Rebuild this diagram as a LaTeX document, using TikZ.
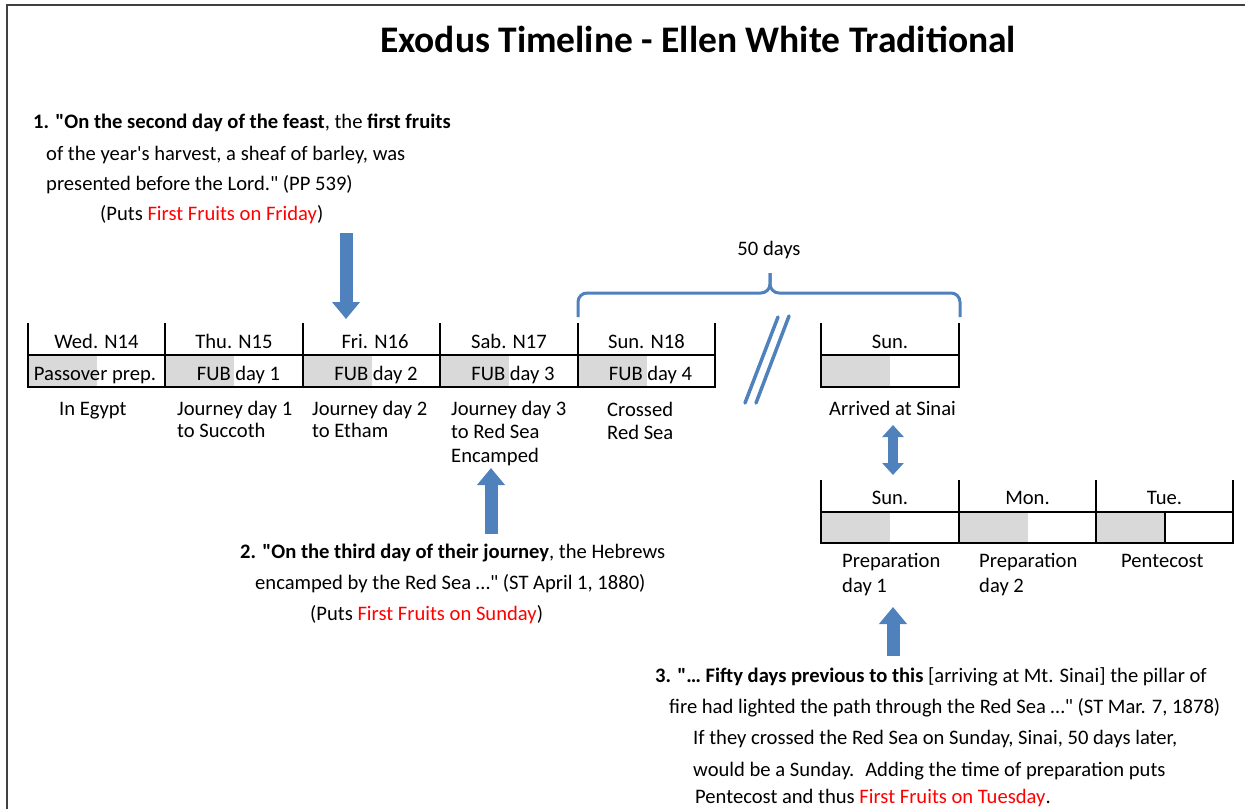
\documentclass[tikz,border=0pt]{standalone}
\usepackage{fontspec}
\setmainfont{Carlito}
\usetikzlibrary{arrows.meta}
\definecolor{exblue}{HTML}{4F81BD}
\definecolor{exgray}{HTML}{D9D9D9}
\definecolor{exred}{HTML}{FF0000}
\definecolor{exframe}{HTML}{404040}
\newcommand{\qq}{\textquotedbl}

\tikzset{
  every node/.style={inner sep=0pt,font=\fontsize{20.6}{24}\selectfont},
  lbl/.style={anchor=base west},
  ctr/.style={anchor=base},
  grid/.style={line width=1.4pt},
  brace/.style={draw=exblue,line width=3pt,rounded corners=9pt},
  bigarrow/.style={draw=exblue,line width=13pt,-{Triangle[length=17pt,width=27pt]}},
  twoarrow/.style={draw=exblue,line width=10pt,{Triangle[length=12pt,width=21pt]}-{Triangle[length=12pt,width=21pt]}}
}

\begin{document}
\begin{tikzpicture}[x=1pt,y=-1pt]
  \useasboundingbox (0,0) rectangle (1245,809);
  \draw[exframe,line width=2pt] (7,809) -- (7,5) -- (1245,5);

  \node[ctr,font=\fontsize{37.5}{40}\selectfont\bfseries] (title) at (698,52) {Exodus Timeline - Ellen White Traditional};

  \node[lbl] (q1a) at (33,128) {\textbf{1. \qq On the second day of the feast}, the \textbf{first fruits}};
  \node[lbl] (q1b) at (46,160) {of the year\textquotesingle s harvest, a sheaf of barley, was};
  \node[lbl] (q1c) at (46,190) {presented before the Lord.\qq\ (PP 539)};
  \node[lbl] (q1d) at (100,220) {(Puts \textcolor{exred}{First Fruits on Friday})};

  \fill[exgray] (28,355) rectangle (96.5,387);
  \fill[exgray] (165,355) rectangle (234,387);
  \fill[exgray] (303,355) rectangle (371.5,387);
  \fill[exgray] (440,355) rectangle (509,387);
  \fill[exgray] (578,355) rectangle (646.5,387);
  \fill[exgray] (821,355) rectangle (890,387);
  \fill[exgray] (821,512) rectangle (890,543);
  \fill[exgray] (959,512) rectangle (1027.5,543);
  \fill[exgray] (1096,512) rectangle (1165,543);

  \begin{scope}[grid]
    \draw (28,323) -- (28,387) -- (715,387) -- (715,323);
    \draw (28,355) -- (715,355);
    \draw (165,323) -- (165,387);
    \draw (303,323) -- (303,387);
    \draw (440,323) -- (440,387);
    \draw (578,323) -- (578,387);
    \draw (821,323) -- (821,387) -- (959,387) -- (959,323);
    \draw (821,355) -- (959,355);
    \draw (821,480) -- (821,543) -- (1233,543) -- (1233,480);
    \draw (821,512) -- (1233,512);
    \draw (959,480) -- (959,543);
    \draw (1096,480) -- (1096,543);
    \draw (1165,512) -- (1165,543);
  \end{scope}

  \node[ctr] (wed) at (96.5,348) {Wed. N14};
  \node[ctr] (thu) at (234,348) {Thu. N15};
  \node[ctr] (fri) at (375,348) {Fri. N16};
  \node[ctr] (sab) at (509,348) {Sab. N17};
  \node[ctr] (sun) at (646.5,348) {Sun. N18};
  \node[ctr] (sinai) at (890,348) {Sun.};
  \node[ctr] (prep1) at (890,504) {Sun.};
  \node[ctr] (prep2) at (1027.5,504) {Mon.};
  \node[ctr] (pent) at (1164.5,504) {Tue.};

  \node[ctr] (fub0) at (95,380) {Passover prep.};
  \node[ctr] (fub1) at (238.5,380) {FUB day 1};
  \node[ctr] (fub2) at (376,380) {FUB day 2};
  \node[ctr] (fub3) at (513,380) {FUB day 3};
  \node[ctr] (fub4) at (650.5,380) {FUB day 4};

  \node[lbl] (egypt) at (59,415) {In Egypt};
  \node[lbl] (jd1) at (177,415) {Journey day 1};
  \node[lbl] (jd1b) at (177,437) {to Succoth};
  \node[lbl] (jd2) at (312,415) {Journey day 2};
  \node[lbl] (jd2b) at (312,437) {to Etham};
  \node[lbl] (jd3) at (451,415) {Journey day 3};
  \node[lbl] (jd3b) at (451,438) {to Red Sea};
  \node[lbl] (jd3c) at (451,462) {Encamped};
  \node[lbl] (cross) at (607,416) {Crossed};
  \node[lbl] (crossb) at (607,439) {Red Sea};
  \node[lbl] (arrive) at (829,415) {Arrived at Sinai};
  \node[lbl] (pd1) at (842,567) {Preparation};
  \node[lbl] (pd1b) at (842,592) {day 1};
  \node[lbl] (pd2) at (979,567) {Preparation};
  \node[lbl] (pd2b) at (979,592) {day 2};
  \node[lbl] (pc) at (1121,567) {Pentecost};

  \node[ctr] (fifty) at (769,255) {50 days};
  \draw[brace] (578,317) -- (578,293) -- (770,293) -- (770,273);
  \draw[brace] (960,317) -- (960,293) -- (770,293) -- (770,273);

  \draw[exblue,line width=3.5pt,line cap=round] (745,403) -- (778,317);
  \draw[exblue,line width=3.5pt,line cap=round] (756,403) -- (789,316);

  \node[lbl] (q2a) at (240,558) {\textbf{2. \qq On the third day of their journey}, the Hebrews};
  \node[lbl] (q2b) at (255,589) {encamped by the Red Sea …\qq\ (ST April 1, 1880)};
  \node[lbl] (q2c) at (310,620) {(Puts \textcolor{exred}{First Fruits on Sunday})};

  \node[lbl] (q3a) at (655,682) {\textbf{3. \qq… Fifty days previous to this} [arriving at Mt. Sinai] the pillar of};
  \node[lbl] (q3b) at (669,713) {fire had lighted the path through the Red Sea …\qq\ (ST Mar. 7, 1878)};
  \node[lbl] (q3c) at (693,744) {If they crossed the Red Sea on Sunday, Sinai, 50 days later,};
  \node[lbl] (q3d) at (693,776) {would be a Sunday.~ Adding the time of preparation puts};
  \node[lbl] (q3e) at (695,803) {Pentecost and thus \textcolor{exred}{First Fruits on Tuesday}.};

  \coordinate (a1s) at (346,233);
  \coordinate (a1e) at (346,319);
  \coordinate (a2s) at (491,534);
  \coordinate (a2e) at (491,468);
  \coordinate (a3s) at (893,425);
  \coordinate (a3e) at (893,475);
  \coordinate (a4s) at (893,656);
  \coordinate (a4e) at (893,607);
  \draw[bigarrow] (a1s) -- (a1e);
  \draw[bigarrow] (a2s) -- (a2e);
  \draw[twoarrow] (a3s) -- (a3e);
  \draw[bigarrow] (a4s) -- (a4e);
\end{tikzpicture}
\end{document}
